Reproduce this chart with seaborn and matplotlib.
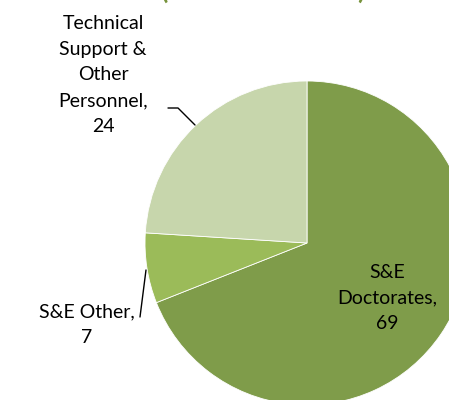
import matplotlib
matplotlib.use("Agg")
import matplotlib.pyplot as plt
import seaborn as sns

# data
categories = ["S&E Doctorates", "S&E Other", "Technical Support & Other Personnel"]
values = [69, 7, 24]
label_text = ["S&E\nDoctorates,\n69", "S&E Other,\n7", "Technical\nSupport &\nOther\nPersonnel,\n24"]
colors = ["#7F9C4A", "#9BBB59", "#C7D6AC"]
title = "(Percent of Total)"

sns.set_theme(style="white")
plt.rcParams["font.family"] = ["Lato", "DejaVu Sans"]

W, H = 449, 400
fig = plt.figure(figsize=(W / 100, H / 100), dpi=100)
ax = fig.add_axes([0, 0, 1, 1])

cx, cy, r = 307, H - 243, 162
ax.pie(values, colors=colors, startangle=90, counterclock=False,
       center=(cx, cy), radius=r, frame=True,
       wedgeprops=dict(edgecolor="white", linewidth=0.6))
ax.set_xlim(0, W)
ax.set_ylim(0, H)
ax.set_aspect("equal")
ax.axis("off")

fs = 14
ls = 1.62
ax.text(387, H - 298, label_text[0], ha="center", va="center",
        fontsize=fs, linespacing=ls, color="black")
ax.text(87, H - 325, label_text[1], ha="center", va="center",
        fontsize=fs, linespacing=ls, color="black")
ax.text(103, H - 75, label_text[2], ha="center", va="center",
        fontsize=fs, linespacing=ls, color="black")

# leader lines
ax.plot([140, 146], [H - 317, H - 270], color="black", lw=1)
ax.plot([168, 178, 195], [H - 108, H - 108, H - 125], color="black", lw=1)

# title, mostly cropped off above the image
ax.text(263, H + 1, title, ha="center", va="baseline", fontsize=19,
        fontweight="bold", color="#77933C", clip_on=False)

fig.savefig("out.png", dpi=100)
